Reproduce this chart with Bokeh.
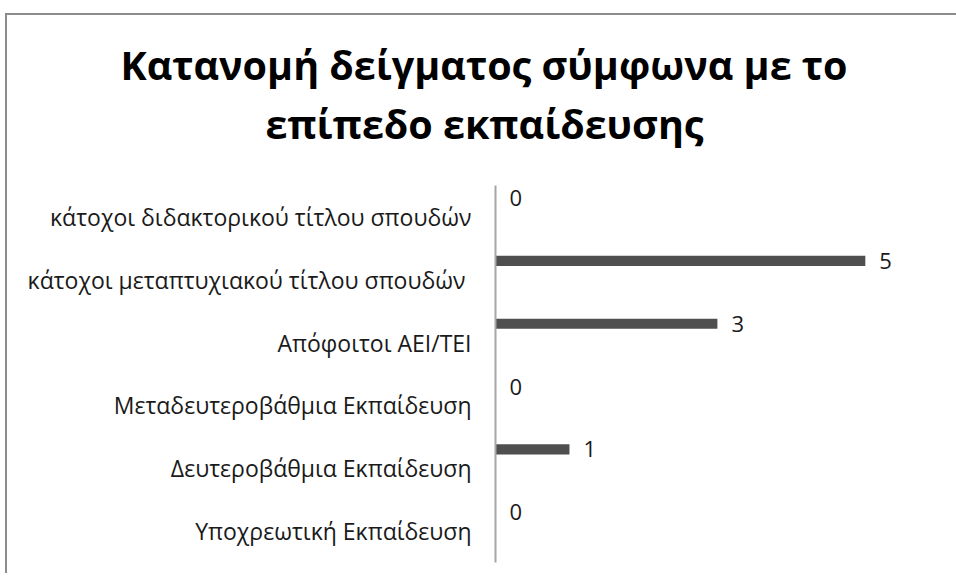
from bokeh.plotting import figure
from bokeh.models import FactorRange, Range1d, Title, ColumnDataSource
from bokeh.transform import dodge
from bokeh.core.properties import value
from bokeh.embed import file_html
from bokeh.resources import INLINE

# Data (bottom to top)
categories = [
    "Υποχρεωτική Εκπαίδευση",
    "Δευτεροβάθμια Εκπαίδευση",
    "Μεταδευτεροβάθμια Εκπαίδευση",
    "Απόφοιτοι ΑΕΙ/ΤΕΙ",
    "κάτοχοι μεταπτυχιακού τίτλου σπουδών ",
    "κάτοχοι διδακτορικού τίτλου σπουδών",
]
counts = [0, 1, 0, 3, 5, 0]
title_lines = ["Κατανομή δείγματος σύμφωνα με το", "επίπεδο εκπαίδευσης"]

W, H = 956, 560
p = figure(width=W, height=H, output_backend="svg", toolbar_location=None,
           y_range=FactorRange(factors=categories), x_range=Range1d(0, 5.8),
           min_border_left=488, min_border_right=39, min_border_top=170, min_border_bottom=13)
p.styles = {"margin-left": "5px", "margin-top": "13px",
            "border-left": "2px solid #8c8c8c", "border-top": "2px solid #8c8c8c",
            "border-right": "none", "border-bottom": "none"}
p.outline_line_color = None
p.background_fill_color = "white"
p.border_fill_color = "white"
p.xgrid.visible = False
p.ygrid.visible = False
p.xaxis.visible = False

ax = p.yaxis[0]
ax.axis_line_color = "#a6a6a6"
ax.axis_line_width = 2
ax.major_tick_line_color = None
ax.minor_tick_line_color = None
ax.major_tick_out = 0
ax.major_tick_in = 0
ax.major_label_standoff = 24
ax.major_label_text_font = "Open Sans"
ax.major_label_text_font_size = "23px"
ax.major_label_text_color = "#1a1a1a"

src = ColumnDataSource(dict(cat=categories, val=counts, lbl=[str(v) for v in counts]))
yd = dodge("cat", 0.3, range=p.y_range)
p.hbar(y=yd, left=0, right="val", height=0.16, source=src,
       fill_color="#4f4f4f", line_color=None)
p.text(x="val", y=yd, text="lbl", source=src, x_offset=14,
       text_align="left", text_baseline="middle",
       text_font=value("Open Sans"), text_font_size="22px", text_color="#1a1a1a")

# title: two lines stacked in the "above" panel (later-added lies higher)
p.add_layout(Title(text=" ", text_font_size="10px", standoff=20), "above")
for t, off in [(title_lines[1], -230), (title_lines[0], -375)]:
    p.add_layout(Title(text=t, align="left", offset=off, standoff=3,
                       text_font="Open Sans", text_font_style="bold",
                       text_font_size="39.5px", text_color="#000000"), "above")

open("out.html", "w").write(file_html(p, INLINE))
